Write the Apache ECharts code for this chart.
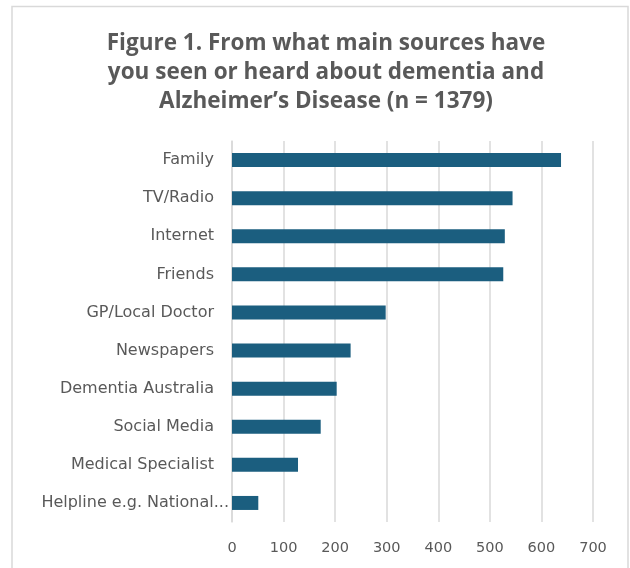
<!DOCTYPE html>
<html>
<head>
<meta charset="utf-8">
<script src="https://cdn.jsdelivr.net/npm/echarts@6/dist/echarts.min.js"></script>
<style>
html,body{margin:0;padding:0;background:#fff;}
#chart{width:630px;height:568px;}
</style>
</head>
<body>
<div id="chart"></div>
<script>
const categories = ["Family","TV/Radio","Internet","Friends","GP/Local Doctor","Newspapers","Dementia Australia","Social Media","Medical Specialist","Helpline e.g. National..."];
const values = [638, 544, 529, 526, 298, 230, 203, 172, 128, 51];
const xTicks = [0, 100, 200, 300, 400, 500, 600, 700];
const titleText = "Figure 1. From what main sources have\nyou seen or heard about dementia and\nAlzheimer\u2019s Disease (n = 1379)";

const catData = categories.map((c, i) => i === categories.length - 1
  ? {value:c, textStyle:{padding:[0,-15,0,0]}}
  : c);

const chart = echarts.init(document.getElementById('chart'), null, {renderer:'canvas'});
chart.setOption({
  animation:false,
  backgroundColor:'#ffffff',
  graphic:[{
    type:'rect', silent:true, z:-1,
    shape:{x:12, y:6.5, width:616, height:580},
    style:{fill:'none', stroke:'#d9d9d9', lineWidth:1.5}
  }],
  title:{
    text:titleText,
    left:321, top:24, textAlign:'center',
    textStyle:{fontFamily:'Open Sans', fontWeight:'bold', fontSize:22.5, color:'#595959', lineHeight:29}
  },
  grid:{left:232, right:37, top:141, bottom:46, containLabel:false},
  xAxis:{
    type:'value', min:xTicks[0], max:xTicks[xTicks.length-1], interval:100,
    axisLine:{show:false}, axisTick:{show:false},
    splitLine:{show:true, lineStyle:{color:'#d9d9d9', width:1.5}},
    axisLabel:{color:'#595959', fontFamily:'DejaVu Sans', fontSize:14.5, margin:19}
  },
  yAxis:{
    type:'category', data:catData, inverse:true,
    axisLine:{show:true, lineStyle:{color:'#d9d9d9', width:1.5}}, axisTick:{show:false},
    axisLabel:{color:'#595959', fontFamily:'DejaVu Sans', fontSize:16, margin:18}
  },
  series:[{
    type:'bar', data:values, barWidth:14,
    itemStyle:{color:'#1b5e7f'}
  }]
});
</script>
</body>
</html>
